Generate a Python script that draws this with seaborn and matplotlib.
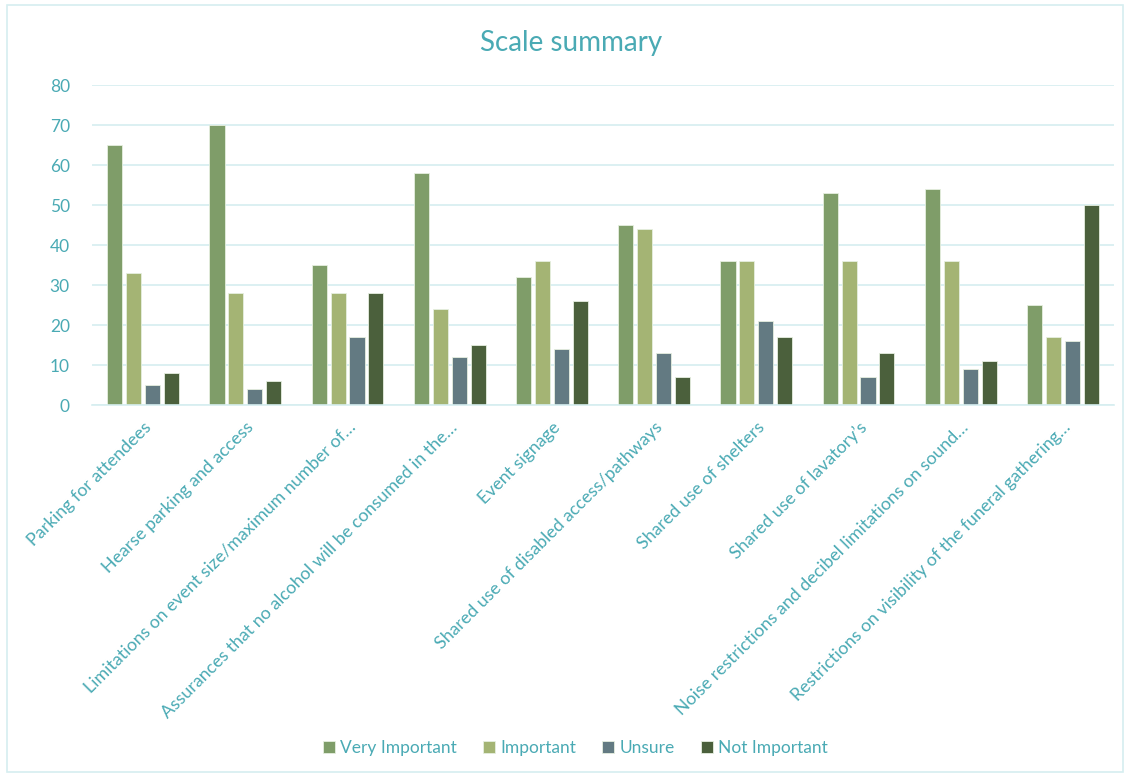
import pandas as pd
import numpy as np
import matplotlib.pyplot as plt
import seaborn as sns
from matplotlib.patches import Rectangle

# data
items = [
    "Parking for attendees",
    "Hearse parking and access",
    "Limitations on event size/maximum number of…",
    "Assurances that no alcohol will be consumed in the…",
    "Event signage",
    "Shared use of disabled access/pathways",
    "Shared use of shelters",
    "Shared use of lavatory’s",
    "Noise restrictions and decibel limitations on sound…",
    "Restrictions on visibility of the funeral gathering…",
]
very_important = [65, 70, 35, 58, 32, 45, 36, 53, 54, 25]
important = [33, 28, 28, 24, 36, 44, 36, 36, 36, 17]
unsure = [5, 4, 17, 12, 14, 13, 21, 7, 9, 16]
not_important = [8, 6, 28, 15, 26, 7, 17, 13, 11, 50]
levels = ["Very Important", "Important", "Unsure", "Not Important"]
colors = ["#7EA660", "#A9BE6A", "#5E7D87", "#4A6636"]

df = pd.DataFrame({
    "item": items * 4,
    "level": np.repeat(levels, len(items)),
    "count": very_important + important + unsure + not_important,
})

text_col = "#4AAAB4"
grid_col = "#D6EEF0"

sns.set_style("white")
plt.rcParams['font.family'] = ['Lato', 'DejaVu Sans']

fig = plt.figure(figsize=(11.28, 7.74), dpi=100)
ax = fig.add_axes([0.0816, 0.4767, 0.906, 0.4134])

sns.barplot(data=df, x="item", y="count", hue="level", hue_order=levels,
            palette=colors, width=0.74, gap=0.2, ax=ax, legend=True,
            edgecolor="#E6EFE0", linewidth=0.6)

ax.set_ylim(0, 80)
ax.set_yticks(range(0, 81, 10))
ax.set_xlim(-0.5, len(items) - 0.5)
ax.grid(axis="y", color=grid_col, linewidth=1.2)
ax.set_axisbelow(True)
for s in ["top", "right", "left"]:
    ax.spines[s].set_visible(False)
ax.spines["bottom"].set_color(grid_col)
ax.spines["bottom"].set_linewidth(1.2)
ax.tick_params(axis="both", length=0, colors=text_col, labelsize=12.5)
ax.tick_params(axis="y", pad=16)
ax.tick_params(axis="x", pad=10)
ax.set_xlabel("")
ax.set_ylabel("")
ax.set_xticks(range(len(items)))
ax.set_xticklabels(items, rotation=45, ha="right", rotation_mode="anchor",
                   color=text_col, fontsize=12.8)

fig.text(0.506, 0.945, "Scale summary", color=text_col, fontsize=20,
         ha="center", va="center")

h, l = ax.get_legend_handles_labels()
ax.legend_.remove()
fig.legend(h, l, loc="center", bbox_to_anchor=(0.51, 0.034), ncol=4,
           frameon=False, fontsize=12.5, labelcolor=text_col,
           handlelength=0.7, handleheight=0.7, handletextpad=0.3,
           columnspacing=1.5)

fig.patches.append(Rectangle((0.006, 0.003), 0.99, 0.99, transform=fig.transFigure,
                             fill=False, edgecolor=grid_col, linewidth=1.2))

fig.savefig("out.png", dpi=100)
